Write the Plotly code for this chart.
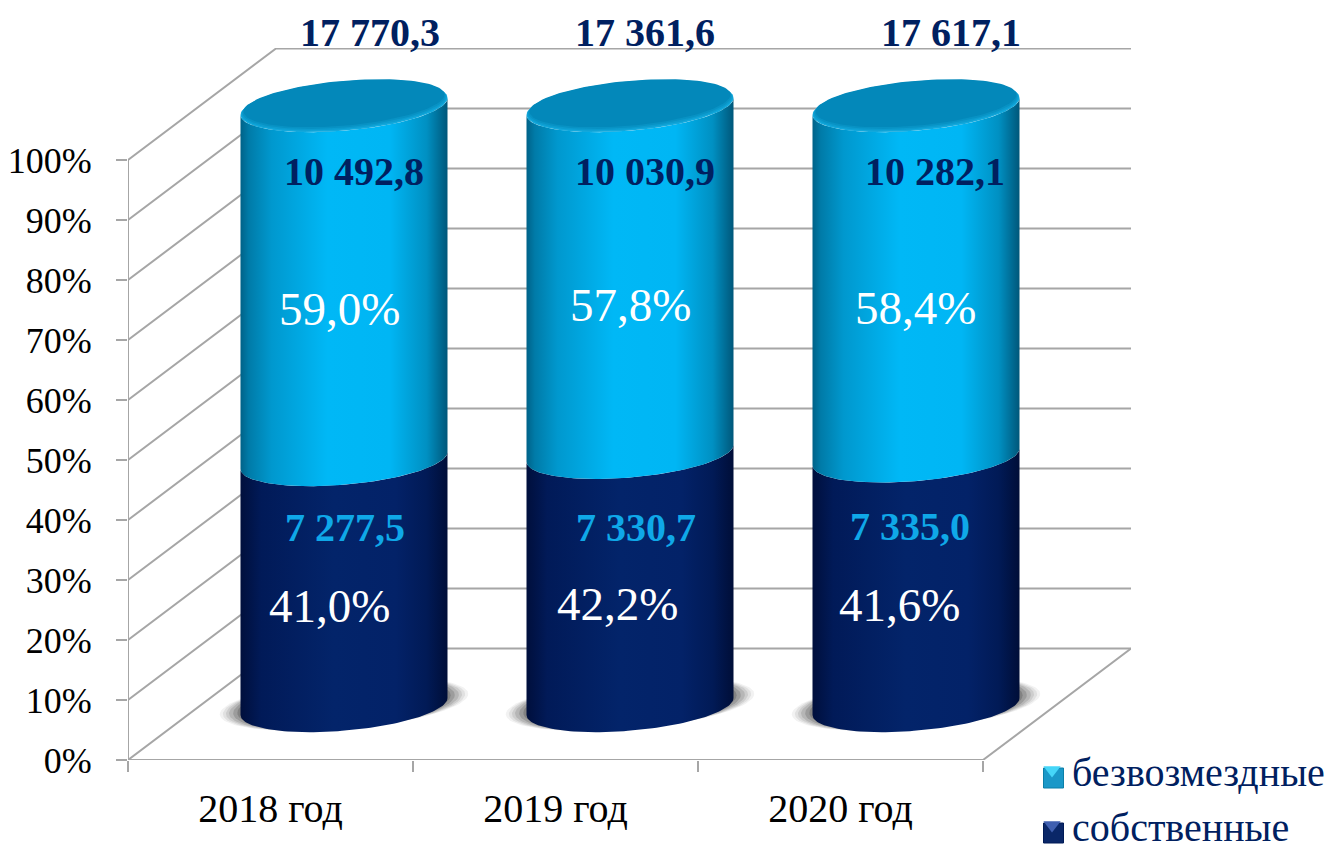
import numpy as np
import plotly.graph_objects as go

# ---------- data ----------
years = ["2018 год", "2019 год", "2020 год"]
own_share = [41.0, 42.2, 41.6]
free_share = [59.0, 57.8, 58.4]
own_value = [7277.5, 7330.7, 7335.0]
free_value = [10492.8, 10030.9, 10282.1]
total_value = [17770.3, 17361.6, 17617.1]
y_ticks = [0, 10, 20, 30, 40, 50, 60, 70, 80, 90, 100]
name_free = "безвозмездные"
name_own = "собственные"

# ---------- geometry / style ----------
PX_X, PX_Y = 285.0, 6.0                # pixels per category / per percent
WALL_X, WALL_Y = 148 / PX_X, 111.5 / PX_Y   # depth of the 3-D box
CYL_X, CYL_Y = 73.5 / PX_X, 53.5 / PX_Y     # where cylinder axes stand in the box
CYL_STEP = 286 / PX_X
A, K, B = 103.5 / PX_X, 8.5 / PX_Y, 24.2 / PX_Y
X0 = -0.5
X_END = X0 + 1003 / PX_X
GRID = "#A6A6A6"
NAVY = "#002060"
SKY = "#0FA8E8"
FONT = "Liberation Serif"

LIGHT_SCALE = [[0, "#006288"], [0.04, "#007BA8"], [0.15, "#0098CE"], [0.42, "#00B8F6"],
               [0.72, "#00B6F4"], [0.9, "#0090C2"], [1, "#00577A"]]
DARK_SCALE = [[0, "#000F3C"], [0.1, "#011A58"], [0.45, "#03246A"], [0.75, "#032268"],
              [0.9, "#011A56"], [1, "#000E38"]]

T = np.linspace(0, 2 * np.pi, 121)


def ell(cx, cy, t, sa=1.0, sk=1.0, sb=1.0):
    return cx + sa * A * np.cos(t), cy + sk * K * np.cos(t) + sb * B * np.sin(t)


def side_path(cx, low, high):
    t = np.linspace(np.pi, 2 * np.pi, 80)
    x1, y1 = ell(cx, low + CYL_Y, t)
    x2, y2 = ell(cx, high + CYL_Y, t[::-1])
    return np.r_[x1, x2, x1[0]], np.r_[y1, y2, y1[0]]


fig = go.Figure()

# box: gridlines on side wall + back wall
for v in y_ticks:
    fig.add_trace(go.Scatter(
        x=[X0, X0 + WALL_X, X_END], y=[v, v + WALL_Y, v + WALL_Y], mode="lines",
        line=dict(color=GRID, width=2), showlegend=False, hoverinfo="skip", cliponaxis=False))
# left vertical, floor front and floor right edges
fig.add_trace(go.Scatter(x=[X0, X0], y=[0, 100], mode="lines",
                         line=dict(color=GRID, width=2), showlegend=False, hoverinfo="skip", cliponaxis=False))
fig.add_trace(go.Scatter(x=[X0, X0 + 3, X0 + 3 + WALL_X], y=[0, 0, WALL_Y], mode="lines",
                         line=dict(color=GRID, width=2), showlegend=False, hoverinfo="skip", cliponaxis=False))

centres = []
for i in range(len(years)):
    cx = X0 + 0.5 + CYL_X + i * CYL_STEP
    centres.append(cx)
    # soft floor shadow: spreads sideways, barely below the cylinder
    for s, alpha in [(1.2, 0.06), (1.17, 0.08), (1.14, 0.1), (1.11, 0.13), (1.07, 0.17), (1.03, 0.2)]:
        sx, sy = ell(cx, CYL_Y + 0.4, T, sa=s, sk=s, sb=1.03)
        fig.add_trace(go.Scatter(x=sx, y=sy, mode="lines", fill="toself", line=dict(width=0),
                                 fillcolor=f"rgba(30,30,30,{alpha})", showlegend=False,
                                 hoverinfo="skip", cliponaxis=False))
    # dark lower part
    sx, sy = side_path(cx, 0, own_share[i])
    fig.add_trace(go.Scatter(x=sx, y=sy, mode="lines", fill="toself", line=dict(width=0),
                             fillgradient=dict(type="horizontal", colorscale=DARK_SCALE),
                             showlegend=False, hoverinfo="skip", cliponaxis=False))
    # light upper part
    sx, sy = side_path(cx, own_share[i], own_share[i] + free_share[i])
    fig.add_trace(go.Scatter(x=sx, y=sy, mode="lines", fill="toself", line=dict(width=0),
                             fillgradient=dict(type="horizontal", colorscale=LIGHT_SCALE),
                             showlegend=False, hoverinfo="skip", cliponaxis=False))
    # cap with a soft brighter rim
    top = own_share[i] + free_share[i] + CYL_Y
    for grow, col in [(0.0, "#12A8DC"), (0.18, "#0C9CCF"), (0.36, "#0892C4"), (0.55, "#0388BA")]:
        sx, sy = ell(cx, top + grow, T, sa=1 - grow * 0.055, sb=1 - grow * 0.13)
        fig.add_trace(go.Scatter(x=sx, y=sy, mode="lines", fill="toself", line=dict(width=0),
                                 fillcolor=col, showlegend=False, hoverinfo="skip", cliponaxis=False))

# legend entries (the key squares behind them are drawn as shapes below)
fig.add_trace(go.Scatter(x=[None], y=[None], mode="markers", name=name_free, legendgroup="a",
                         marker=dict(symbol="triangle-down", size=15, color="#45D6F8",
                                     line=dict(width=0))))
fig.add_trace(go.Scatter(x=[None], y=[None], mode="markers", name=name_own, legendgroup="b",
                         marker=dict(symbol="triangle-down", size=15, color="#3F5FB0",
                                     line=dict(width=0))))


def num(v):
    return f"{v:,.1f}".replace(",", " ").replace(".", ",")


def pct(v):
    return f"{v:.1f}".replace(".", ",") + "%"


NUDGE_TOTAL = [(25.5, 74), (15, 74), (34.5, 74)]
NUDGE_FREE = [(10, -65), (15, -65), (19, -65)]
NUDGE_FREE_P = [(-4.5, -25.5), (0.5, -25), (-1, -26)]
NUDGE_OWN = [(0.5, -66.5), (5.5, -74), (-6.5, -70)]
NUDGE_OWN_P = [(-14.5, -22.5), (-12.5, -24), (-17, -23)]
annotations = []


def note(x, y, text, nudge, color, size, bold=False):
    annotations.append(dict(
        x=x, y=y + CYL_Y, text=f"<b>{text}</b>" if bold else text, showarrow=False,
        xshift=nudge[0], yshift=nudge[1], xanchor="center", yanchor="middle",
        font=dict(family=FONT, size=size, color=color)))


for i, cx in enumerate(centres):
    note(cx, 100, num(total_value[i]), NUDGE_TOTAL[i], NAVY, 40, True)
    note(cx, 100, num(free_value[i]), NUDGE_FREE[i], NAVY, 40, True)
    note(cx, own_share[i] + free_share[i] / 2, pct(free_share[i]), NUDGE_FREE_P[i], "white", 47)
    note(cx, own_share[i], num(own_value[i]), NUDGE_OWN[i], SKY, 40, True)
    note(cx, own_share[i] / 2, pct(own_share[i]), NUDGE_OWN_P[i], "white", 47)


def key_square(px, py, size, fill, edge):
    return dict(type="rect", xref="paper", yref="paper",
                x0=(px - size / 2 - 128) / 1003, x1=(px + size / 2 - 128) / 1003,
                y0=(760 - py - size / 2) / 712, y1=(760 - py + size / 2) / 712,
                fillcolor=fill, line=dict(color=edge, width=1))


fig.update_layout(
    width=1326, height=852,
    margin=dict(l=128, r=195, t=48, b=92, autoexpand=False),
    paper_bgcolor="white", plot_bgcolor="white",
    font=dict(family=FONT, color="black"),
    annotations=annotations,
    shapes=[key_square(1053.5, 778, 20, "#1A98C8", "#0B7FA8"),
            key_square(1053.5, 833, 20, "#0A2768", "#001A56")],
    hovermode=False,
    xaxis=dict(range=[X0, X_END], tickvals=[0, 1, 2], ticktext=years, ticks="",
               showgrid=False, zeroline=False, showline=False,
               tickfont=dict(family=FONT, size=40, color="black"), ticklabelstandoff=21,
               minor=dict(tickvals=[-0.5, 0.5, 1.5, 2.5], ticks="outside", ticklen=11,
                          tickcolor=GRID, tickwidth=2, showgrid=False)),
    yaxis=dict(range=[0, 712 / PX_Y], tickvals=y_ticks, ticktext=[f"{v}%" for v in y_ticks],
               ticks="outside", ticklen=11, tickcolor=GRID, tickwidth=2,
               showgrid=False, zeroline=False, showline=False,
               tickfont=dict(family=FONT, size=36, color="black"), ticklabelstandoff=17),
    legend=dict(xref="container", yref="container", x=0.7783, y=0.1345, xanchor="left", yanchor="top",
                font=dict(family=FONT, size=40, color=NAVY), tracegroupgap=0,
                bgcolor="rgba(0,0,0,0)", itemwidth=30),
)

fig.write_html("out.html", config={"displayModeBar": False},
               post_script="document.body.style.margin='0';")
